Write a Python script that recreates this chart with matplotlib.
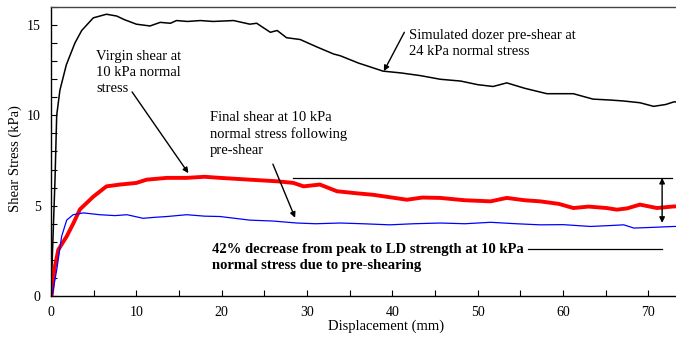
import matplotlib.pyplot as plt
from matplotlib.ticker import MultipleLocator

preshear_x = [0.0, 0.47, 0.67, 1.05, 1.8, 2.8, 3.6, 4.96, 6.5, 7.7, 8.6, 10.0, 11.6,
              12.8, 14.0, 14.7, 16.0, 17.5, 19.0, 21.4, 23.3, 24.1, 25.7, 26.5, 27.6,
              29.2, 31.1, 33.1, 33.9, 36.0, 38.9, 41.0, 43.3, 45.6, 48.0, 50.0, 51.8,
              53.4, 55.5, 58.1, 61.2, 63.5, 65.5, 67.0, 69.0, 70.6, 72.0, 73.0, 75.0]
preshear_y = [0.0, 6.4, 10.0, 11.4, 12.8, 14.0, 14.7, 15.4, 15.6, 15.5, 15.3, 15.05,
              14.95, 15.15, 15.1, 15.25, 15.2, 15.25, 15.2, 15.25, 15.05, 15.1, 14.6,
              14.7, 14.3, 14.2, 13.8, 13.4, 13.3, 12.9, 12.45, 12.35, 12.2, 12.0, 11.9,
              11.7, 11.6, 11.8, 11.5, 11.2, 11.2, 10.9, 10.85, 10.8, 10.7, 10.5, 10.6,
              10.75, 10.7]

virgin_x = [0.0, 0.2, 0.67, 1.25, 1.84, 2.6, 3.8, 5.7, 7.5, 8.9, 10.8, 12.0, 13.6,
            15.9, 18.0, 19.8, 23.3, 26.0, 28.8, 31.0, 33.9, 36.5, 39.7, 42.5, 45.6,
            48.5, 51.5, 54.5, 57.3, 60.0, 63.2, 65.5, 67.1, 68.3, 70.5, 73.0, 75.0]
virgin_y = [0.0, 0.2, 1.44, 3.3, 4.2, 4.5, 4.6, 4.5, 4.45, 4.5, 4.3, 4.35, 4.4,
            4.5, 4.42, 4.4, 4.2, 4.15, 4.04, 4.0, 4.04, 4.0, 3.94, 4.0, 4.04,
            4.0, 4.08, 4.0, 3.94, 3.95, 3.85, 3.9, 3.94, 3.76, 3.8, 3.85, 3.85]

final_x = [0.0, 0.08, 0.4, 0.86, 1.84, 2.6, 3.4, 4.96, 6.5, 8.1, 10.0, 11.2, 13.6,
           15.9, 18.0, 19.8, 23.3, 26.5, 28.4, 29.6, 31.5, 33.5, 35.5, 37.8, 41.7,
           43.5, 45.6, 48.5, 51.5, 53.4, 55.5, 57.3, 59.5, 61.2, 63.0, 65.1, 66.3,
           67.5, 69.0, 71.0, 73.0, 75.0]
final_y = [0.0, 0.0, 1.5, 2.56, 3.3, 4.0, 4.8, 5.5, 6.07, 6.17, 6.26, 6.44, 6.54,
           6.54, 6.6, 6.54, 6.44, 6.35, 6.26, 6.07, 6.17, 5.8, 5.7, 5.6, 5.33,
           5.45, 5.43, 5.3, 5.24, 5.43, 5.3, 5.24, 5.1, 4.87, 4.95, 4.87, 4.78,
           4.85, 5.06, 4.87, 4.96, 4.95]

SERIF = ["Liberation Serif", "DejaVu Serif"]
plt.rcParams["font.family"] = SERIF


def main():
    fig = plt.figure(figsize=(6.76, 3.37), dpi=100)
    ax = fig.add_axes([0.0754, 0.1217, 0.947, 0.8575])

    ax.plot(preshear_x, preshear_y, color="black", lw=1.1)
    ax.plot(final_x, final_y, color="#ff0000", lw=2.8, solid_capstyle="butt")
    ax.plot(virgin_x, virgin_y, color="#0000ff", lw=0.9)

    ax.set_xlim(0, 75)
    ax.set_ylim(0, 16)
    ax.xaxis.set_major_locator(MultipleLocator(10))
    ax.xaxis.set_minor_locator(MultipleLocator(5))
    ax.yaxis.set_major_locator(MultipleLocator(5))
    ax.yaxis.set_minor_locator(MultipleLocator(1))
    ax.tick_params(which="both", direction="in", labelsize=10, width=0.8, length=4)
    ax.tick_params(axis="x", pad=7)
    ax.tick_params(axis="y", pad=7.5)
    for sp in ax.spines.values():
        sp.set_linewidth(1.0)
    ax.spines["top"].set_color("#444444")

    ax.set_xlabel("Displacement (mm)", fontsize=10.5)
    ax.xaxis.set_label_coords(0.523, -0.083)
    ax.set_ylabel("Shear Stress (kPa)", fontsize=10.5)
    ax.yaxis.set_label_coords(-0.045, 0.477)

    arrow = dict(arrowstyle="-|>", color="black", lw=1.0, mutation_scale=8,
                 shrinkA=0, shrinkB=0)
    txt = dict(fontsize=10.5, linespacing=1.3, va="top", ha="left")

    ax.text(41.9, 14.8, "Simulated dozer pre-shear at\n24 kPa normal stress", **txt)
    ax.annotate("", xy=(39.0, 12.45), xytext=(41.4, 14.6), arrowprops=arrow)

    ax.text(5.3, 13.6, "Virgin shear at\n10 kPa normal\nstress", **txt)
    ax.annotate("", xy=(16.1, 6.8), xytext=(9.5, 11.3), arrowprops=arrow)

    ax.text(18.6, 10.25, "Final shear at 10 kPa\nnormal stress following\npre-shear", **txt)
    ax.annotate("", xy=(28.6, 4.33), xytext=(26.0, 7.3), arrowprops=arrow)

    # peak-to-LD bracket
    ax.plot([28.4, 72.8], [6.54, 6.54], color="black", lw=0.9)
    both = dict(arrowstyle="<|-|>", color="black", lw=1.0, mutation_scale=8,
                shrinkA=0, shrinkB=0)
    ax.annotate("", xy=(71.6, 6.54), xytext=(71.6, 4.05), arrowprops=both)
    ax.plot([55.9, 71.6], [2.6, 2.6], color="black", lw=0.9)
    ax.text(18.9, 2.95, "42% decrease from peak to LD strength at 10 kPa\n"
            "normal stress due to pre-shearing", fontweight="bold", **txt)

    fig.savefig("out.png", dpi=100)
    plt.close(fig)


if __name__ == "__main__":
    main()
